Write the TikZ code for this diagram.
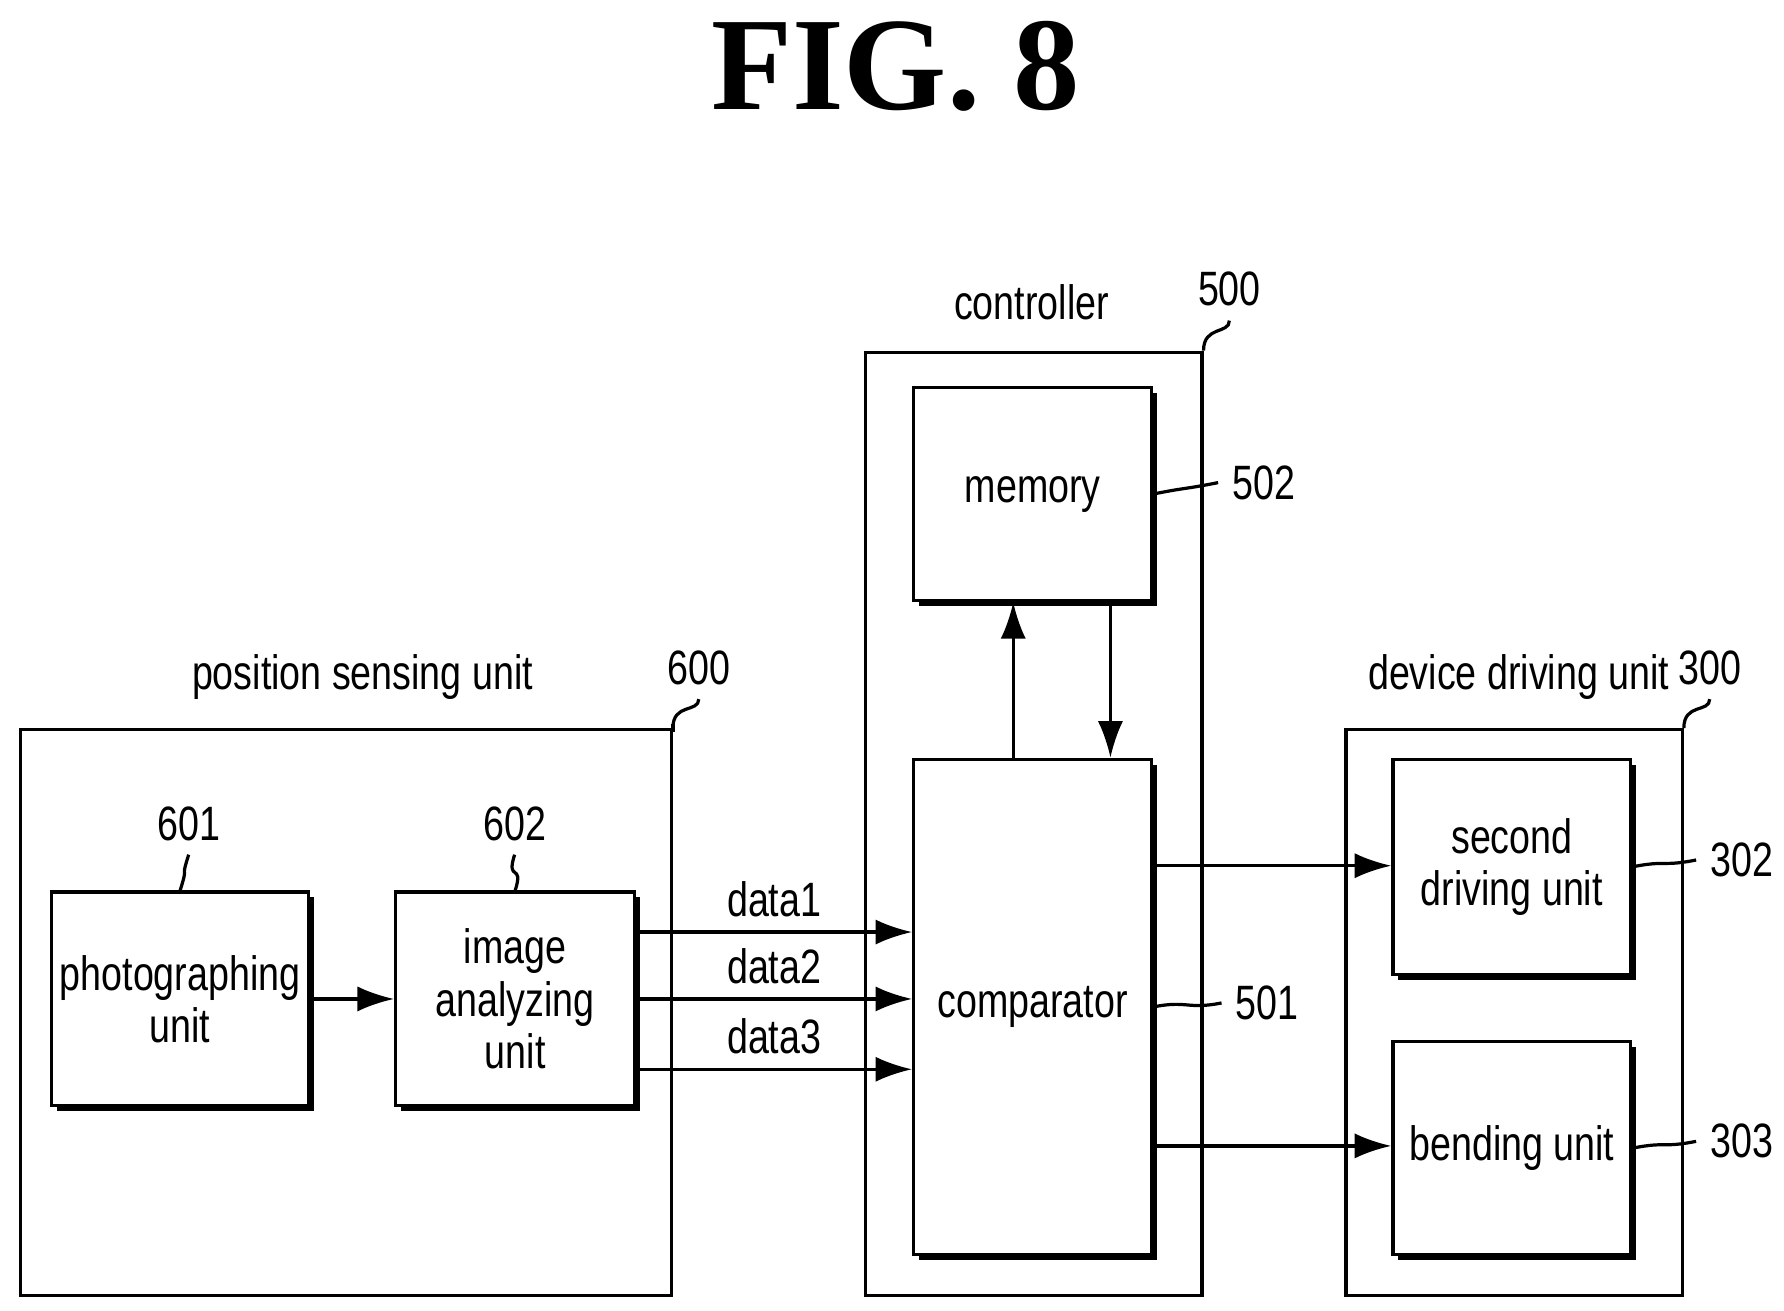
\documentclass[tikz,border=0pt]{standalone}
\usepackage{fontspec}
\setmainfont{Liberation Sans}[FakeStretch=0.78]
\newfontfamily\figfont{Liberation Serif}
\usetikzlibrary{positioning,shadows,arrows.meta}
\tikzset{
  blk/.style={draw,thick,fill=white,minimum width=#1,align=center,inner sep=1pt,
    drop shadow={shadow xshift=0.45mm,shadow yshift=-0.45mm,fill=black,opacity=1}},
  grp/.style={draw,thick,inner sep=0pt},
  arr/.style={-{Latex[length=3.2mm,width=2.2mm]},thick},
  lbl/.style={font=\fontsize{12}{13}\selectfont},
}
\newcommand{\leadup}[2]{\draw[thick] (#1) .. controls ++(0,0.18) and ++(0,-0.12) .. ++(0.22,0.30)  coordinate (#2);}
\begin{document}
\begin{tikzpicture}[x=1cm,y=1cm,every node/.style={lbl}]
\useasboundingbox (0,0) rectangle (15.60,-11.46);

\node[font=\figfont\fontsize{33}{36}\selectfont\bfseries] (title) at (7.83,-0.58) {FIG. 8};

% position sensing unit
\node[grp,minimum width=5.69cm,minimum height=4.95cm] (psu) at (3.025,-8.855) {};
\node (psut) at (3.17,-5.92) {position sensing unit};
\node[blk=2.25cm,minimum height=1.87cm] (photo) at (1.575,-8.735) {photographing\\unit};
\node[blk=2.09cm,minimum height=1.87cm] (img) at (4.505,-8.735) {image\\analyzing\\unit};

% controller
\node[grp,minimum width=2.94cm,minimum height=8.25cm] (ctl) at (9.04,-7.205) {};
\node (ctlt) at (9.02,-2.64) {controller};
\node[blk=2.08cm,minimum height=1.86cm] (mem) at (9.03,-4.32) {memory};
\node[blk=2.08cm,minimum height=4.33cm] (cmp) at (9.03,-8.805) {comparator};

% device driving unit
\node[grp,minimum width=2.94cm,minimum height=4.95cm] (ddu) at (13.24,-8.855) {};
\node (ddut) at (13.28,-5.92) {device driving unit};
\node[blk=2.08cm,minimum height=1.88cm] (drv) at (13.22,-7.58) {second\\driving unit};
\node[blk=2.08cm,minimum height=1.86cm] (bnd) at (13.22,-10.04) {bending unit};

% reference numerals
\node (n600) at (6.11,-5.84) {600};
\node (n601) at (1.65,-7.20) {601};
\node (n602) at (4.50,-7.20) {602};
\node (n500) at (10.75,-2.53) {500};
\node (n502) at (11.05,-4.22) {502};
\node (n501) at (11.08,-8.77) {501};
\node (n300) at (14.95,-5.84) {300};
\node (n302) at (15.23,-7.52) {302};
\node (n303) at (15.23,-9.98) {303};

\draw[thick] (psu.north east) .. controls ++(0,-0.12) and ++(0,0.12) .. ++(0.0,-0.0) ;
\draw[thick] (psu.north east) .. controls ++(0,0.22) and ++(0,-0.12) .. (n600.south);
\draw[thick] (ctl.north east) .. controls ++(0,0.22) and ++(0,-0.12) .. (n500.south);
\draw[thick] (ddu.north east) .. controls ++(0,0.22) and ++(0,-0.12) .. (n300.south);
\draw[thick] (photo.north) .. controls ++(0.08,0.25) and ++(-0.08,-0.25) .. (n601.south);
\draw[thick] (img.north) .. controls ++(0.08,0.25) and ++(-0.08,-0.25) .. (n602.south);
\draw[thick] (mem.east) .. controls ++(0.3,0.06) and ++(-0.3,-0.06) .. (n502.west);
\draw[thick] (cmp.east) .. controls ++(0.3,0.06) and ++(-0.3,-0.06) .. (n501.west);
\draw[thick] (drv.east) .. controls ++(0.3,0.06) and ++(-0.3,-0.06) .. (n302.west);
\draw[thick] (bnd.east) .. controls ++(0.3,0.06) and ++(-0.3,-0.06) .. (n303.west);

% signal paths
\draw[arr] (photo.east) -- (img.west);
\coordinate (d1) at ([yshift=5.85mm]img.east);
\coordinate (d3) at ([yshift=-6.15mm]img.east);
\draw[arr] (d1) -- node[above] {data1} (d1 -| cmp.west);
\draw[arr] (img.east) -- node[above] {data2} (img.east -| cmp.west);
\draw[arr] (d3) -- node[above] {data3} (d3 -| cmp.west);

\coordinate (up) at ([xshift=-1.7mm]cmp.north);
\coordinate (dn) at ([xshift=6.8mm]mem.south);
\draw[arr] (cmp.north -| up) -- (mem.south -| up);
\draw[arr] (dn) -- (dn |- cmp.north);

\coordinate (o1) at (cmp.east |- {0,-7.57});
\coordinate (o2) at (cmp.east |- {0,-10.02});
\draw[arr] (o1) -- (o1 -| drv.west);
\draw[arr] (o2) -- (o2 -| bnd.west);
\end{tikzpicture}
\end{document}
